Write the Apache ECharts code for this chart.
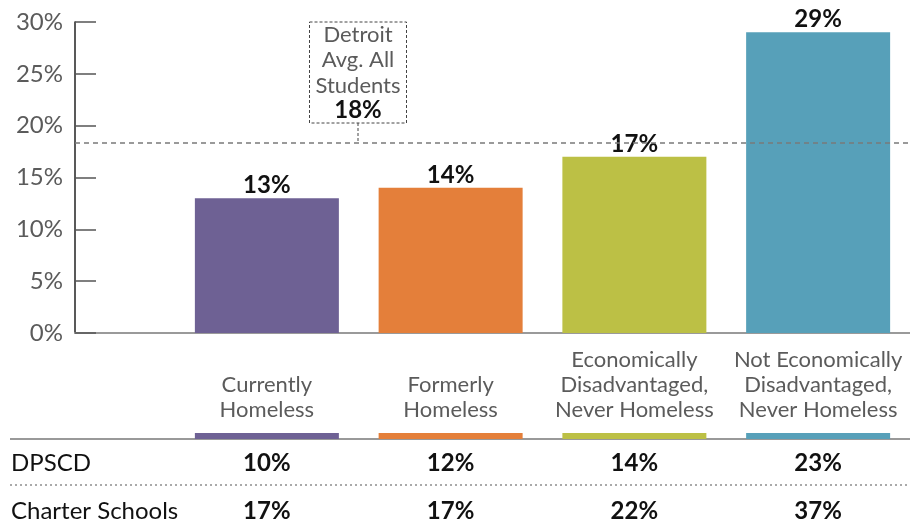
<!DOCTYPE html>
<html>
<head>
<meta charset="utf-8">
<script src="https://cdn.jsdelivr.net/npm/echarts@6/dist/echarts.min.js"></script>
<style>
  html, body { margin: 0; padding: 0; background: #fff; }
  #chart { width: 910px; height: 531px; }
</style>
</head>
<body>
<div id="chart"></div>
<script>
// Share of students, by housing / economic status
const categories = [
  'Currently\nHomeless',
  'Formerly\nHomeless',
  'Economically\nDisadvantaged,\nNever Homeless',
  'Not Economically\nDisadvantaged,\nNever Homeless'
];
const detroitRates = [13, 14, 17, 29];
const dpscdRates = [10, 12, 14, 23];
const charterRates = [17, 17, 22, 37];
const cityAverage = 18.4;
const rowNames = ['DPSCD', 'Charter Schools'];
const yTicks = [0, 5, 10, 15, 20, 25, 30];

const palette = ['#6e6194', '#e47f3a', '#bcc045', '#57a0b9'];
const FONT = 'Lato, "Noto Sans", sans-serif';
const BAR_W = 144;

const chart = echarts.init(document.getElementById('chart'), null, { renderer: 'canvas' });

const option = {
  animation: false,
  textStyle: { fontFamily: FONT },
  grid: [
    // axis frame: y axis and baseline
    { left: 75, right: 0, top: 22, height: 311 },
    // bars
    { left: 175, width: 737, top: 22, height: 311 }
  ],
  xAxis: [
    {
      gridIndex: 0, type: 'value', min: 0, max: 1,
      axisLine: { show: true, lineStyle: { color: '#9a9a9a', width: 2 } },
      axisTick: { show: false }, axisLabel: { show: false }, splitLine: { show: false }
    },
    {
      gridIndex: 1, type: 'category', data: categories,
      axisLine: { show: false }, axisTick: { show: false },
      axisLabel: {
        interval: 0, margin: 89, verticalAlign: 'bottom',
        fontSize: 22, lineHeight: 25, color: '#5b5b5b', fontFamily: FONT
      }
    }
  ],
  yAxis: [
    {
      gridIndex: 0, type: 'value', min: yTicks[0], max: yTicks[yTicks.length - 1], interval: 5,
      axisLine: { show: true, lineStyle: { color: '#222', width: 1.5 } },
      axisTick: { show: true, inside: true, length: 21, lineStyle: { color: '#555', width: 1.5 } },
      axisLabel: { margin: 12, fontSize: 24, color: '#5b5b5b', formatter: '{value}%', fontFamily: FONT },
      splitLine: { show: false }
    },
    {
      gridIndex: 1, type: 'value', min: 0, max: 30, show: false
    }
  ],
  series: [
    {
      type: 'line', xAxisIndex: 0, yAxisIndex: 0, data: [],
      markLine: {
        silent: true, symbol: 'none',
        label: { show: false },
        lineStyle: { type: [5, 4], color: '#7a7a7a', width: 1.5 },
        data: [{ yAxis: cityAverage }]
      }
    },
    {
      type: 'bar', xAxisIndex: 1, yAxisIndex: 1, barWidth: BAR_W,
      data: detroitRates.map((v, i) => ({ value: v, itemStyle: { color: palette[i] } })),
      label: {
        show: true, position: 'top', distance: 1,
        formatter: '{c}%', fontSize: 24, fontWeight: 'bold', color: '#111', fontFamily: FONT
      }
    }
  ]
};

chart.setOption(option);

// Build the annotation, colour keys and table from the axes' own pixel positions
function buildOverlay() {
  const els = [];
  const avgY = chart.convertToPixel({ yAxisIndex: 0 }, cityAverage);
  const boxCx = 358, boxTop = 22, boxBottom = 123, boxW = 97;

  els.push({
    type: 'rect', silent: true,
    shape: { x: boxCx - boxW / 2, y: boxTop, width: boxW, height: boxBottom - boxTop },
    style: { fill: 'none', stroke: '#444', lineWidth: 1, lineDash: [3, 2] }
  });
  els.push({
    type: 'line', silent: true,
    shape: { x1: boxCx, y1: boxBottom, x2: boxCx, y2: avgY },
    style: { stroke: '#444', lineWidth: 1, lineDash: [3, 2] }
  });
  ['Detroit', 'Avg. All', 'Students'].forEach((t, k) => {
    els.push({
      type: 'text', silent: true, x: boxCx, y: 35 + k * 25.3,
      style: { text: t, fontSize: 22, fontFamily: FONT, fill: '#5b5b5b', align: 'center', verticalAlign: 'middle' }
    });
  });
  els.push({
    type: 'text', silent: true, x: boxCx, y: 110,
    style: { text: Math.round(cityAverage) + '%', fontSize: 24, fontWeight: 'bold', fontFamily: FONT, fill: '#111', align: 'center', verticalAlign: 'middle' }
  });

  // table rules
  els.push({
    type: 'line', silent: true,
    shape: { x1: 10, y1: 439, x2: 910, y2: 439 },
    style: { stroke: '#777', lineWidth: 1.5 }
  });
  els.push({
    type: 'line', silent: true,
    shape: { x1: 10, y1: 485, x2: 910, y2: 485 },
    style: { stroke: '#aaa', lineWidth: 2, lineDash: [2, 3] }
  });

  // colour keys under the category labels
  categories.forEach((c, i) => {
    const cx = chart.convertToPixel({ xAxisIndex: 1 }, i);
    els.push({
      type: 'rect', silent: true,
      shape: { x: cx - BAR_W / 2, y: 433, width: BAR_W, height: 6 },
      style: { fill: palette[i] }
    });
  });

  // table rows
  const rows = [dpscdRates, charterRates];
  const rowY = [463, 511];
  rows.forEach((vals, r) => {
    els.push({
      type: 'text', silent: true, x: 11, y: rowY[r],
      style: { text: rowNames[r], fontSize: 24, fontFamily: FONT, fill: '#111', align: 'left', verticalAlign: 'middle' }
    });
    vals.forEach((v, i) => {
      const cx = chart.convertToPixel({ xAxisIndex: 1 }, i);
      els.push({
        type: 'text', silent: true, x: cx, y: rowY[r],
        style: { text: v + '%', fontSize: 24, fontWeight: 'bold', fontFamily: FONT, fill: '#111', align: 'center', verticalAlign: 'middle' }
      });
    });
  });

  chart.setOption({ graphic: { elements: els } });
}

buildOverlay();
</script>
</body>
</html>
